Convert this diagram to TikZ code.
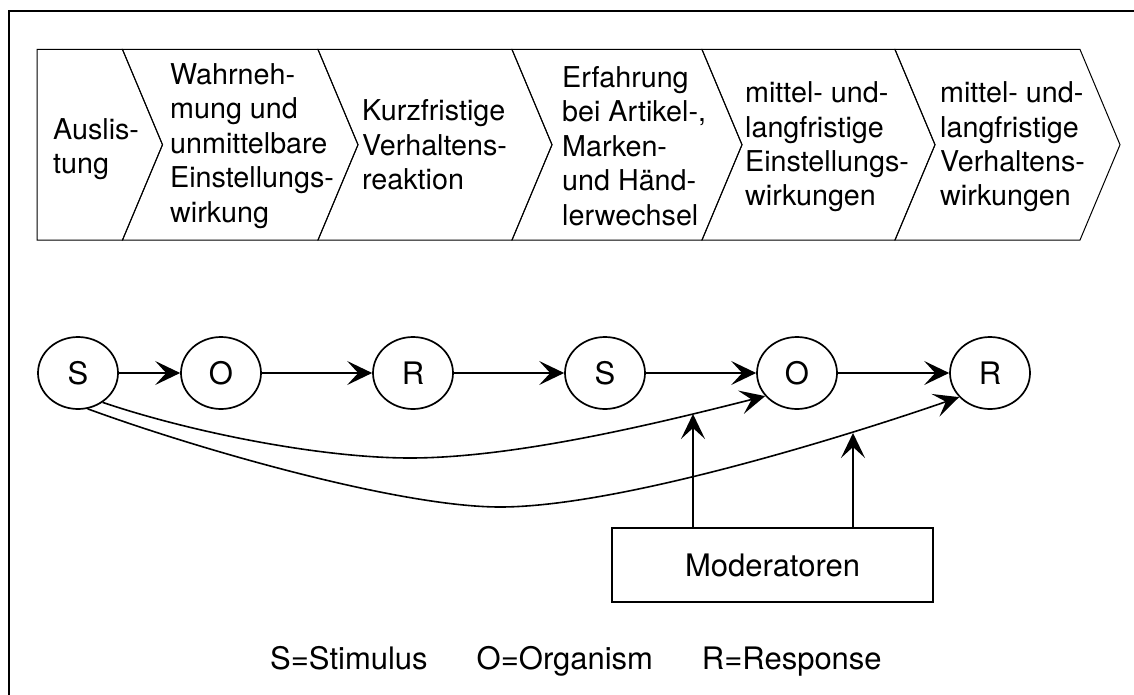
\documentclass[tikz,border=0pt]{standalone}
\usepackage{fontspec}
\setmainfont{TeX Gyre Heros}
\usetikzlibrary{shapes.geometric, arrows.meta}
\begin{document}
\begin{tikzpicture}[x=1pt, y=-1pt,
  chev/.style={draw=black, line width=1pt, line join=miter},
  chevtext/.style={anchor=west, inner sep=0pt, align=left,
    font=\fontsize{28.7}{34.4}\selectfont},
  state/.style={ellipse, draw, line width=1.7pt, minimum width=80pt,
    minimum height=72pt, inner sep=0pt, font=\fontsize{31}{37}\selectfont},
  flow/.style={line width=1.6pt, -{Stealth[length=25pt, width=24pt, inset=11pt]}},
  modbox/.style={draw, line width=1.3pt, minimum width=321pt, minimum height=74pt,
    inner sep=0pt, font=\fontsize{31}{37}\selectfont},
  legendtext/.style={anchor=base west, inner sep=0pt, font=\fontsize{31}{37}\selectfont}
]
\useasboundingbox (0,0) rectangle (1134,695);

% outer frame (left and top edges)
\draw[line width=2pt] (9,695) -- (9,11) -- (1134,11);

% process chevrons
\draw[chev] (37,49.5) -- (122.5,49.5) -- (162.5,144.75) -- (122.5,240) -- (37,240) -- cycle;
\foreach \a/\b in {122.5/318, 318/512, 512/702, 702/895, 895/1080}
  \draw[chev] (\a,49.5) -- (\b,49.5) -- (\b+40,144.75) -- (\b,240) -- (\a,240)
    -- (\a+40,144.75) -- cycle;

\node[chevtext] (t1) at (53,149) {Auslis-\\tung};
\node[chevtext] (t2) at (170,146) {Wahrneh-\\mung und\\unmittelbare\\Einstellungs-\\wirkung};
\node[chevtext] (t3) at (362,145) {Kurzfristige\\Verhaltens-\\reaktion};
\node[chevtext] (t4) at (562,146) {Erfahrung\\bei Artikel-,\\Marken-\\und H\"and-\\lerwechsel};
\node[chevtext] (t5) at (745,147) {mittel- und-\\langfristige\\Einstellungs-\\wirkungen};
\node[chevtext] (t6) at (940,147) {mittel- und-\\langfristige\\Verhaltens-\\wirkungen};

% S-O-R chain
\node[state] (s1) at (78,373) {S};
\node[state] (o1) at (221,373) {O};
\node[state] (r1) at (413,373) {R};
\node[state] (s2) at (605,373) {S};
\node[state] (o2) at (797,373) {O};
\node[state] (r2) at (990,373) {R};

\draw[flow] (s1) -- (o1);
\draw[flow] (o1) -- (r1);
\draw[flow] (r1) -- (s2);
\draw[flow] (s2) -- (o2);
\draw[flow] (o2) -- (r2);

% long-term effects of the stimulus
\draw[flow] (s1.-50) .. controls (190,432) and (320,458) .. (410,458)
  .. controls (520,458) and (670,420) .. (o2.216);
\draw[flow] (s1.-75) .. controls (200,450) and (400,507) .. (500,507)
  .. controls (620,507) and (850,435) .. (r2.218);

% moderators acting on both effects
\node[modbox] (mod) at (772.5,565) {Moderatoren};
\coordinate (hit1) at (693,414);
\coordinate (hit2) at (853,433);
\draw[flow] (mod.north -| hit1) -- (hit1);
\draw[flow] (mod.north -| hit2) -- (hit2);

% legend
\node[legendtext] (legend) at (270,669)
  {S=Stimulus\hspace{49pt}O=Organism\hspace{49pt}R=Response};
\end{tikzpicture}
\end{document}
